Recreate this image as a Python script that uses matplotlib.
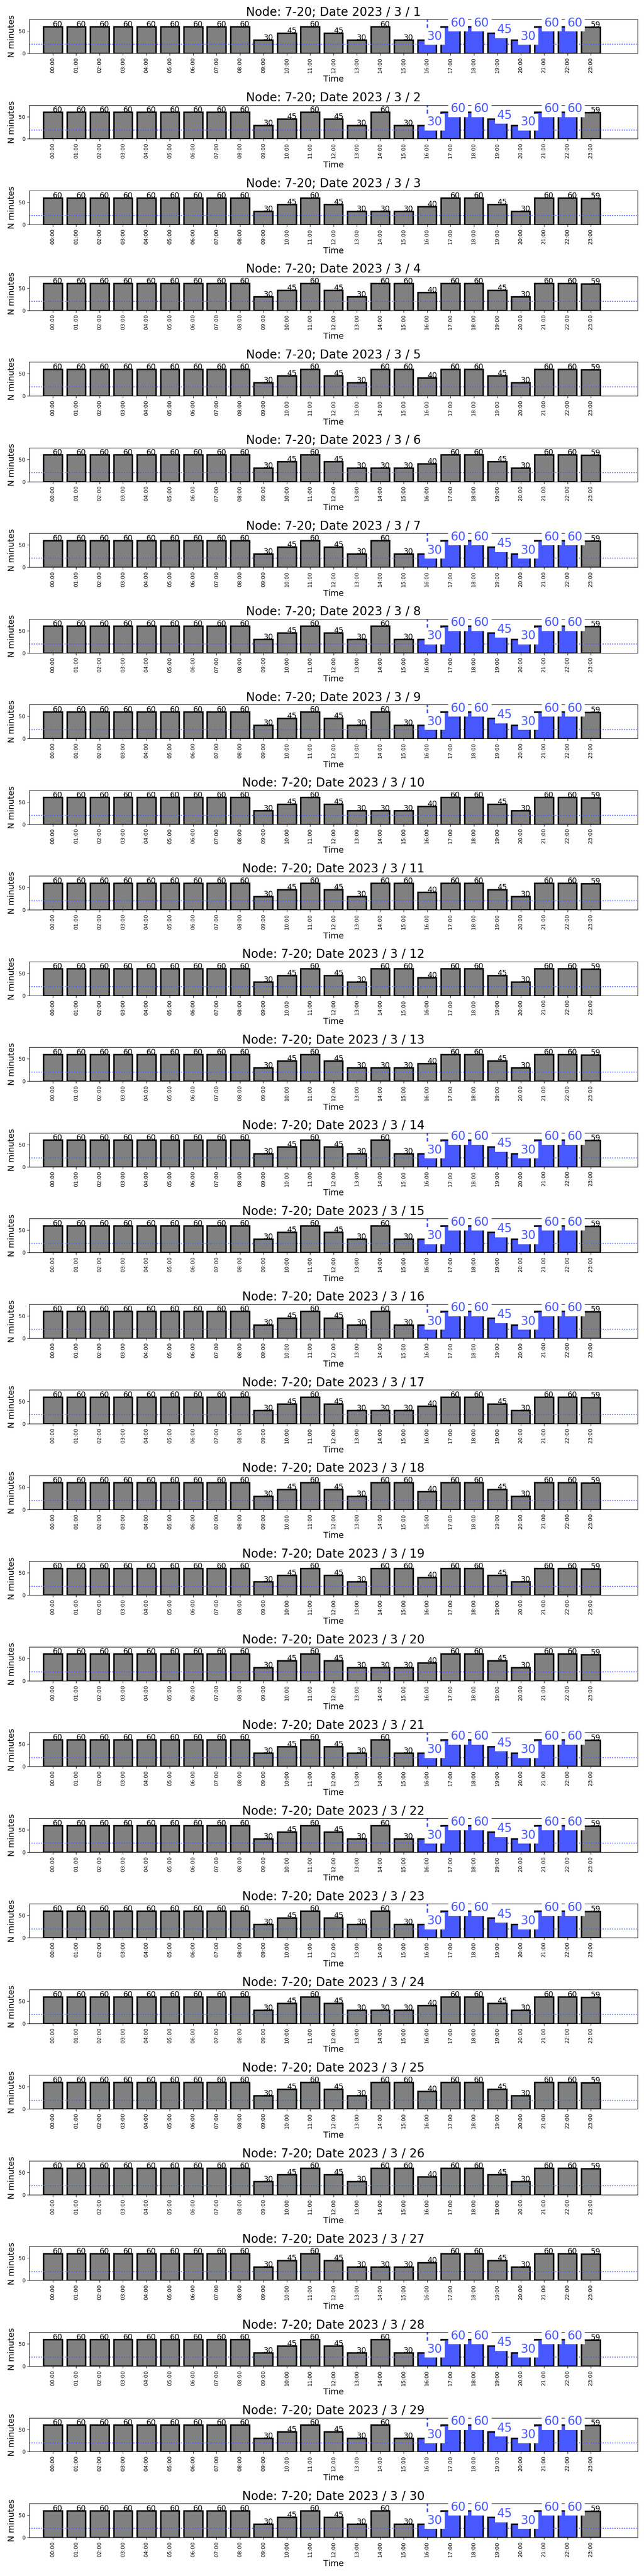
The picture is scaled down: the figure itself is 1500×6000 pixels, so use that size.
import numpy as np
import matplotlib
matplotlib.use("Agg")
import matplotlib.pyplot as plt

# -------------------------
# data
# -------------------------
NODE = "7-20"
YEAR = 2023
MONTH = 3
DAYS = list(range(1, 31))

HOURS = ["00:00", "01:00", "02:00", "03:00", "04:00", "05:00", "06:00", "07:00",
         "08:00", "09:00", "10:00", "11:00", "12:00", "13:00", "14:00", "15:00",
         "16:00", "17:00", "18:00", "19:00", "20:00", "21:00", "22:00", "23:00"]

# minutes per hour, three recurring day profiles
MIN_MIDWEEK = [60, 60, 60, 60, 60, 60, 60, 60, 60, 30, 45, 60,
               45, 30, 60, 30, 30, 60, 60, 45, 30, 60, 60, 59]
MIN_FRI_MON = [60, 60, 60, 60, 60, 60, 60, 60, 60, 30, 45, 60,
               45, 30, 30, 30, 40, 60, 60, 45, 30, 60, 60, 59]
MIN_WEEKEND = [60, 60, 60, 60, 60, 60, 60, 60, 60, 30, 45, 60,
               45, 30, 60, 60, 40, 60, 60, 45, 30, 60, 60, 59]

DAY_PATTERN = ["mid", "mid", "frimon", "wkend", "wkend", "frimon",
               "mid", "mid", "mid", "frimon", "wkend", "wkend", "frimon",
               "mid", "mid", "mid", "frimon", "wkend", "wkend", "frimon",
               "mid", "mid", "mid", "frimon", "wkend", "wkend", "frimon",
               "mid", "mid", "mid"]

PEAK_HOURS = [16, 17, 18, 19, 20, 21, 22]
THRESHOLD = 20

PROFILES = {"mid": MIN_MIDWEEK, "frimon": MIN_FRI_MON, "wkend": MIN_WEEKEND}
BLUE = "#4858ff"

# -------------------------
# plot
# -------------------------
fig, axes = plt.subplots(len(DAYS), 1, figsize=(15, 60), dpi=100)
fig.subplots_adjust(left=0.0456, right=0.990, top=0.9925, bottom=0.015, hspace=1.527)

x = np.arange(len(HOURS))

for ax, day, kind in zip(axes, DAYS, DAY_PATTERN):
    values = PROFILES[kind]
    peak = kind == "mid"
    is_blue = [peak and h in PEAK_HOURS for h in range(len(HOURS))]
    colors = [BLUE if b else "gray" for b in is_blue]

    ax.bar(x, values, width=0.8, color=colors, edgecolor="black", linewidth=2.5)
    ax.axhline(THRESHOLD, color=BLUE, linestyle=":", linewidth=1.5)
    if peak:
        ax.axvline(PEAK_HOURS[0], color=BLUE, linestyle="--", linewidth=2.5, zorder=0.5)

    for xi, v, b in zip(x, values, is_blue):
        if b:
            ax.text(xi, v, str(v), fontsize=20, color=BLUE,
                    bbox=dict(facecolor="white", edgecolor="none"))
        else:
            ax.text(xi, v, str(v), fontsize=13, color="black")

    ax.set_xticks(x)
    ax.set_xticklabels(HOURS, rotation=90, fontsize=9)
    ax.set_yticks([0, 50])
    ax.tick_params(axis="y", labelsize=9)
    ax.set_xlim(-1, 25)
    ax.set_ylim(0, 76)
    ax.set_title(f"Node: {NODE}; Date {YEAR} / {MONTH} / {day}", fontsize=20)
    ax.set_xlabel("Time", fontsize=14)
    ax.set_ylabel("N minutes", fontsize=14)

fig.savefig("out.png")
